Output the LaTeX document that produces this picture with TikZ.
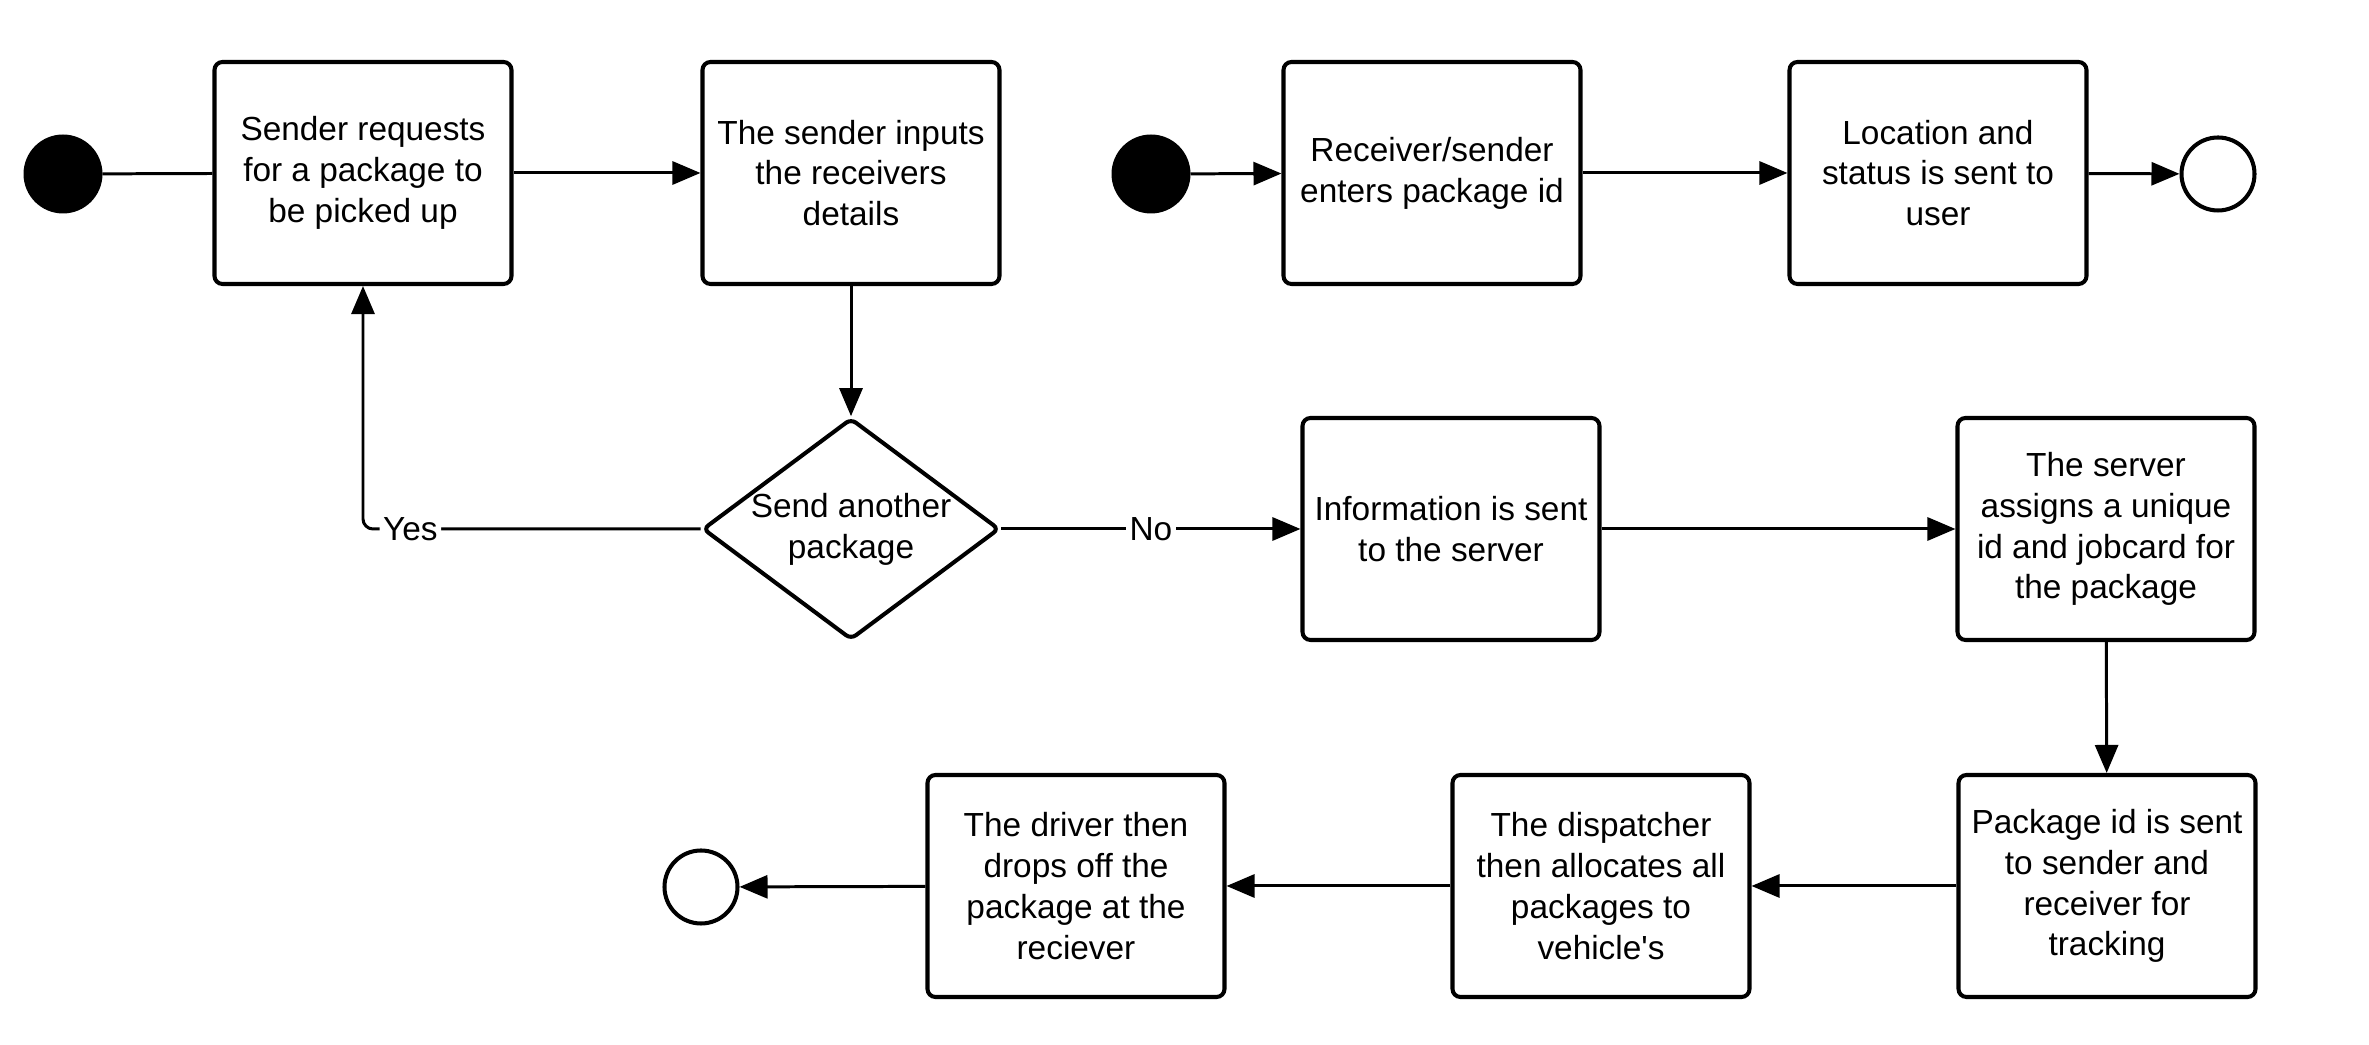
\documentclass[tikz,border=0pt]{standalone}
\usepackage{fontspec}
\setmainfont{Liberation Sans}
\usepackage{tikz}
\usetikzlibrary{shapes.geometric,arrows.meta}
\newcommand{\actfont}{\fontsize{9.5}{11.6}\selectfont}
\tikzset{act/.style={rectangle,draw,rounded corners=0.08cm,line width=1.15pt,minimum width=2.97cm,minimum height=2.22cm,align=center,font=\actfont}}
\tikzset{dec/.style={diamond,draw,rounded corners=0.06cm,line width=1.15pt,aspect=1.34,inner sep=0pt,align=center,font=\actfont}}
\tikzset{init/.style={circle,draw,fill=black,minimum size=0.76cm,inner sep=0pt}}
\tikzset{fin/.style={circle,draw,fill=white,line width=1.15pt,minimum size=0.73cm,inner sep=0pt}}
\tikzset{lbl/.style={fill=white,inner sep=1pt,font=\actfont}}

\begin{document}
\begin{tikzpicture}[>={Triangle[length=0.28cm,width=0.23cm]},line width=0.85pt]
    \useasboundingbox (0,0) rectangle (23.69,10.45);

    % top left row
    \node[init] (start1) at (0.63,8.71) {};
    \node[act] (a) at (3.63,8.72) {Sender requests\\for a package to\\be picked up};
    \node[act] (b) at (8.51,8.72) {The sender inputs\\the receivers\\details};
    \node[dec] (q) at (8.51,5.16) {Send another\\package};

    % top right row
    \node[init] (start2) at (11.51,8.71) {};
    \node[act] (h) at (14.32,8.72) {Receiver/sender\\enters package id};
    \node[act] (i) at (19.38,8.72) {Location and\\status is sent to\\user};
    \node[fin] (end2) at (22.18,8.71) {};

    % middle row
    \node[act] (c) at (14.51,5.16) {Information is sent\\to the server};
    \node[act] (d) at (21.06,5.16) {The server\\assigns a unique\\id and jobcard for\\the package};

    % bottom row
    \node[act] (e) at (21.07,1.59) {Package id is sent\\to sender and\\receiver for\\tracking};
    \node[act] (f) at (16.01,1.59) {The dispatcher\\then allocates all\\packages to\\vehicle\textquotesingle s};
    \node[act] (g) at (10.76,1.59) {The driver then\\drops off the\\package at the\\reciever};
    \node[fin] (end1) at (7.01,1.58) {};

    \draw [-] (start1) to (a);
    \draw [->] (a) to (b);
    \draw [->] (b) to (q);
    \draw [->,rounded corners=0.1cm] (q) -| node[lbl,pos=0.43]{Yes} (a);
    \draw [->] (q) to node[lbl]{No} (c);
    \draw [->] (c) to (d);
    \draw [->] (d) to (e);
    \draw [->] (e) to (f);
    \draw [->] (f) to (g);
    \draw [->] (g) to (end1);
    \draw [->] (start2) to (h);
    \draw [->] (h) to (i);
    \draw [->] (i) to (end2);
\end{tikzpicture}
\end{document}
